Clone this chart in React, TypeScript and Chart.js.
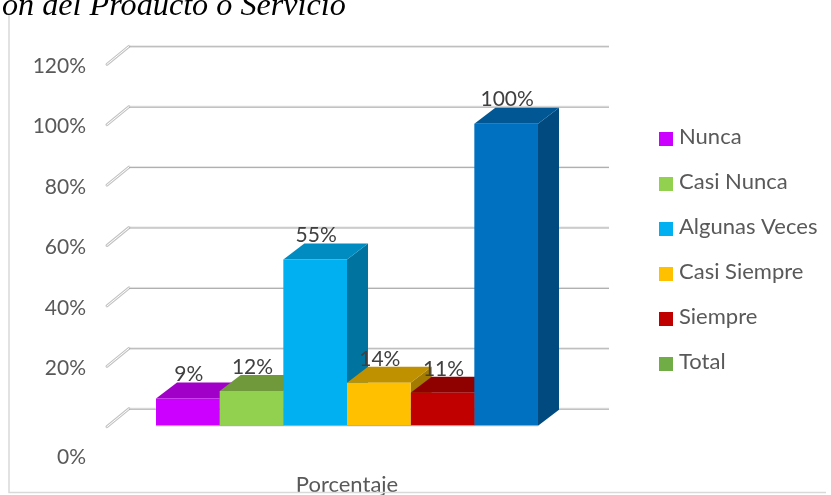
import React, { useEffect, useRef } from "react";
import { Chart, registerables } from "chart.js";

Chart.register(...registerables);

const titleText = "on del Producto o Servicio";
const category = ["Porcentaje"];
const seriesNames = ["Nunca", "Casi Nunca", "Algunas Veces", "Casi Siempre", "Siempre", "Total"];
const seriesValues = [0.09, 0.115, 0.55, 0.142, 0.109, 1.0];
const dataLabels = ["9%", "12%", "55%", "14%", "11%", "100%"];
const frontColors = ["#cc00ff", "#92d050", "#00b0f0", "#ffc000", "#c00000", "#0070c0"];
const topColors = ["#a000c8", "#70993c", "#008cc0", "#bf9000", "#8f0000", "#005794"];
const sideColors = ["#8a00ac", "#5f8232", "#00749f", "#a37b00", "#7a0000", "#004a80"];
const legendColors = ["#cc00ff", "#92d050", "#00b0f0", "#ffc000", "#c00000", "#70ad47"];
const ticksValues = [0, 0.2, 0.4, 0.6, 0.8, 1.0, 1.2];

const FONT = "Lato, sans-serif";
const TEXT_SIZE = 22;
const AXIS_SIZE = 21;
const DX = 21;
const DY = 16;
const GRID_DX = 23;
const GRID_DY = 17;
const GRID_RIGHT = 609;

const poly = (ctx: any, pts: number[][], color: string) => {
  ctx.fillStyle = color;
  ctx.beginPath();
  pts.forEach((p, i) => (i ? ctx.lineTo(p[0], p[1]) : ctx.moveTo(p[0], p[1])));
  ctx.closePath();
  ctx.fill();
};

const swatch = (color: string) => {
  const c = document.createElement("canvas");
  c.width = 14;
  c.height = 18;
  const g = c.getContext("2d") as CanvasRenderingContext2D;
  g.fillStyle = color;
  g.fillRect(0, 4, 14, 14);
  return c;
};

const scenePlugin = {
  id: "scene",
  afterLayout(chart: any) {
    const l = chart.legend;
    const pad = l.options.labels.padding;
    l.left = 666 - 2 - pad;
    l.right = l.left + l.width;
    l.top = 137 - TEXT_SIZE / 2 - pad;
    l.bottom = l.top + l.height;
  },
  beforeDatasetsDraw(chart: any) {
    const { ctx, scales, chartArea } = chart;
    const y = scales.y;
    ctx.save();
    // chart frame
    ctx.strokeStyle = "#d9d9d9";
    ctx.lineWidth = 1.5;
    ctx.beginPath();
    ctx.moveTo(9, 15);
    ctx.lineTo(9, 492.5);
    ctx.lineTo(826, 492.5);
    ctx.stroke();
    // back-wall grid lines and their slanted floor ticks
    ticksValues.forEach((v) => {
      const py = y.getPixelForValue(v);
      const by = py - GRID_DY;
      const x0 = chartArea.left;
      ctx.lineCap = "round";
      ctx.strokeStyle = "#c4c4c4";
      ctx.lineWidth = 3;
      ctx.beginPath();
      ctx.moveTo(x0 + 1, py + 1);
      ctx.lineTo(x0 + GRID_DX, by);
      ctx.stroke();
      ctx.strokeStyle = "#ffffff";
      ctx.lineWidth = 1;
      ctx.beginPath();
      ctx.moveTo(x0 + 1, py + 1);
      ctx.lineTo(x0 + GRID_DX, by);
      ctx.stroke();
      ctx.lineCap = "butt";
      ctx.fillStyle = "#e4e4e4";
      ctx.fillRect(x0 + GRID_DX, by - 1, GRID_RIGHT - x0 - GRID_DX, 1);
      ctx.fillStyle = "#a8a8a8";
      ctx.fillRect(x0 + GRID_DX, by, GRID_RIGHT - x0 - GRID_DX, 1);
    });
    // side and top faces, back to front
    seriesValues.forEach((_, i) => {
      const bar = chart.getDatasetMeta(i).data[0];
      const l = bar.x - bar.width / 2;
      const r = bar.x + bar.width / 2;
      const t = bar.y;
      const b = bar.base;
      poly(ctx, [[r, t], [r + DX, t - DY], [r + DX, b - DY], [r, b]], sideColors[i]);
      poly(ctx, [[l, t], [r, t], [r + DX, t - DY], [l + DX, t - DY]], topColors[i]);
    });
    ctx.restore();
  },
  afterDatasetsDraw(chart: any) {
    const { ctx, scales } = chart;
    ctx.save();
    const first = chart.getDatasetMeta(0).data[0];
    const last = chart.getDatasetMeta(seriesValues.length - 1).data[0];
    ctx.fillStyle = "#a6a6a6";
    ctx.fillRect(first.x - first.width / 2, first.base - 0.5, last.x - first.x + last.width, 1);
    ctx.fillStyle = "#404040";
    ctx.font = `${AXIS_SIZE}px ${FONT}`;
    ctx.textAlign = "center";
    ctx.textBaseline = "middle";
    seriesValues.forEach((_, i) => {
      const bar = chart.getDatasetMeta(i).data[0];
      ctx.fillText(dataLabels[i], bar.x + 1, bar.y - 24);
    });
    // title fragment cut by the page edge, and the displaced 0% axis label
    ctx.fillStyle = "#000000";
    ctx.font = "italic 32.2px 'Liberation Serif', serif";
    ctx.textAlign = "left";
    ctx.textBaseline = "alphabetic";
    ctx.fillText(titleText, 2, 15);
    ctx.fillStyle = "#595959";
    ctx.font = `${AXIS_SIZE}px ${FONT}`;
    ctx.textAlign = "right";
    ctx.textBaseline = "middle";
    ctx.fillText("0%", 86, scales.y.getPixelForValue(0) + 32);
    ctx.restore();
  },
};

export default function App() {
  const ref = useRef<HTMLCanvasElement>(null);
  useEffect(() => {
    document.body.style.margin = "0";
    const chart = new Chart(ref.current as HTMLCanvasElement, {
      type: "bar",
      data: {
        labels: category,
        datasets: seriesNames.map((name, i) => ({
          label: name,
          data: [seriesValues[i]],
          backgroundColor: frontColors[i],
          borderWidth: 0,
          barPercentage: 1,
          categoryPercentage: 0.7925,
        })),
      },
      options: {
        responsive: false,
        animation: false,
        layout: { padding: { top: 63.3, right: 243, left: 0, bottom: 0 } },
        plugins: {
          title: { display: false },
          tooltip: { enabled: false },
          legend: {
            position: "chartArea",
            align: "start",
            labels: {
              usePointStyle: true,
              boxWidth: 4,
              boxHeight: 14,
              padding: 23,
              color: "#595959",
              font: { family: FONT, size: TEXT_SIZE },
              generateLabels: () =>
                seriesNames.map((text, i) => ({
                  text,
                  pointStyle: swatch(legendColors[i]),
                  fillStyle: legendColors[i],
                  strokeStyle: legendColors[i],
                  lineWidth: 0,
                  fontColor: "#595959",
                  datasetIndex: i,
                })),
            },
          },
        },
        scales: {
          x: {
            afterFit: (s: any) => {
              s.height = 69.3;
            },
            grid: { display: false, drawTicks: false },
            border: { display: false },
            ticks: { color: "#595959", padding: 46, font: { family: FONT, size: TEXT_SIZE } },
          },
          y: {
            min: 0,
            max: 1.2,
            afterFit: (s: any) => {
              s.width = 106;
            },
            grid: { display: false, drawTicks: false },
            border: { display: false },
            afterBuildTicks: (s: any) => {
              s.ticks = ticksValues.map((value) => ({ value }));
            },
            ticks: {
              color: "#595959",
              padding: 20,
              labelOffset: 3,
              font: { family: FONT, size: AXIS_SIZE },
              callback: (v: any) => (v === 0 ? "" : `${Math.round(v * 100)}%`),
            },
          },
        },
      },
      plugins: [scenePlugin],
    } as any);
    return () => chart.destroy();
  }, []);
  return <canvas ref={ref} width={831} height={495} style={{ display: "block" }} />;
}
